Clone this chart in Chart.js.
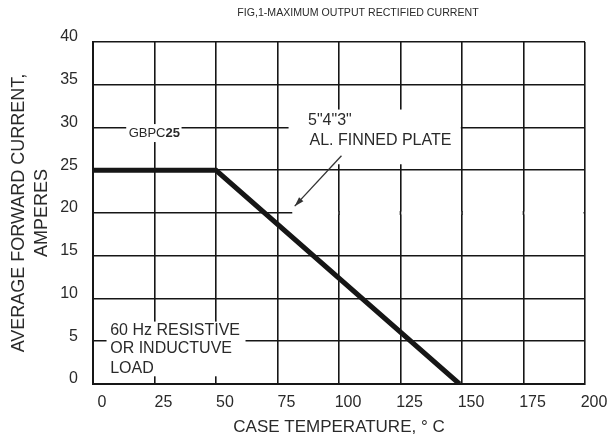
<!DOCTYPE html>
<html>
<head>
<meta charset="utf-8">
<script src="https://cdn.jsdelivr.net/npm/chart.js@4.4.1/dist/chart.umd.min.js"></script>
<style>
  body { margin: 0; background: #fff; }
  canvas { display: block; }
</style>
</head>
<body>
<canvas id="myChart" width="615" height="443"></canvas>
<script>
"use strict";

// curve
const temps = [0, 50, 149];
const amps = [25, 25, 0];

// axes
const xTicks = [0, 25, 50, 75, 100, 125, 150, 175, 200];
const yGrid = [0, 2.5, 5, 7.5, 10, 12.5, 15, 17.5, 20, 22.5, 25, 27.5, 30, 32.5, 35, 37.5, 40];
const yLabels = [0, 5, 10, 15, 20, 25, 30, 35, 40];

const INK = '#161616';
const TXT = '#2a2a2a';
const FONT = '"Liberation Sans", Arial, sans-serif';

// white patches where the original has no grid (in data units)
const masks = [
  { x0: 79.5, x1: 149.5, y0: 25.7, y1: 32.1 },
  { x0: 5.5, x1: 62, y0: 0.9, y1: 7.3 },
  { x0: 13.5, x1: 36, y0: 28.3, y1: 30.4 }
];

const notes = {
  id: 'notes',
  beforeDatasetsDraw(chart) {
    const { ctx, scales: { x, y } } = chart;
    ctx.save();
    ctx.fillStyle = '#fff';
    masks.forEach(m => {
      const l = x.getPixelForValue(m.x0), r = x.getPixelForValue(m.x1);
      const t = y.getPixelForValue(m.y1), b = y.getPixelForValue(m.y0);
      ctx.fillRect(l, t, r - l, b - t);
    });
    // the 20 A grid line stops at the arrow tip
    const y20 = y.getPixelForValue(20);
    const xs = x.getPixelForValue(81), xe = x.getPixelForValue(200) - 1.5;
    ctx.fillRect(xs, y20 - 1.6, xe - xs, 3.2);
    ctx.strokeStyle = INK;
    ctx.lineWidth = 1.6;
    xTicks.filter(v => v > 81 && v < 200).forEach(v => {
      const px = x.getPixelForValue(v);
      ctx.beginPath();
      ctx.moveTo(px, y20 - 2);
      ctx.lineTo(px, y20 + 2);
      ctx.stroke();
    });
    ctx.restore();
  },
  afterDraw(chart) {
    const { ctx, scales: { x, y } } = chart;
    ctx.save();
    ctx.fillStyle = TXT;
    ctx.textBaseline = 'middle';

    ctx.font = '10.6px ' + FONT;
    ctx.textAlign = 'center';
    ctx.fillText('FIG,1-MAXIMUM OUTPUT RECTIFIED CURRENT', 358, 13);

    ctx.textAlign = 'left';
    ctx.font = '13px ' + FONT;
    const gx = x.getPixelForValue(14.5), gy = y.getPixelForValue(29.3);
    ctx.fillText('GBPC', gx, gy);
    const w = ctx.measureText('GBPC').width;
    ctx.font = 'bold 13px ' + FONT;
    ctx.fillText('25', gx + w, gy);

    ctx.font = '16px ' + FONT;
    ctx.fillText('5"4"3"', x.getPixelForValue(87.4), y.getPixelForValue(30.8));
    ctx.fillText('AL. FINNED PLATE', x.getPixelForValue(88), y.getPixelForValue(28.5));

    ctx.fillText('60 Hz RESISTIVE', x.getPixelForValue(7), y.getPixelForValue(6.3));
    ctx.fillText('OR INDUCTUVE', x.getPixelForValue(7), y.getPixelForValue(4.1));
    ctx.fillText('LOAD', x.getPixelForValue(7), y.getPixelForValue(1.85));

    // arrow to the derating line
    const ax0 = x.getPixelForValue(101), ay0 = y.getPixelForValue(26.7);
    const ax1 = x.getPixelForValue(82), ay1 = y.getPixelForValue(20.8);
    ctx.strokeStyle = '#333';
    ctx.lineWidth = 1.3;
    ctx.beginPath();
    ctx.moveTo(ax0, ay0);
    ctx.lineTo(ax1, ay1);
    ctx.stroke();
    const ang = Math.atan2(ay1 - ay0, ax1 - ax0);
    ctx.fillStyle = '#333';
    ctx.beginPath();
    ctx.moveTo(ax1, ay1);
    ctx.lineTo(ax1 - 10 * Math.cos(ang - 0.3), ay1 - 10 * Math.sin(ang - 0.3));
    ctx.lineTo(ax1 - 10 * Math.cos(ang + 0.3), ay1 - 10 * Math.sin(ang + 0.3));
    ctx.closePath();
    ctx.fill();
    ctx.restore();
  }
};

const ctx = document.getElementById('myChart').getContext('2d');
const myChart = new Chart(ctx, {
  type: 'line',
  data: {
    datasets: [{
      data: temps.map((t, i) => ({ x: t, y: amps[i] })),
      borderColor: INK,
      borderWidth: 5,
      pointRadius: 0,
      tension: 0,
      fill: false
    }]
  },
  options: {
    responsive: false,
    animation: false,
    layout: { padding: { top: 42, right: 30, left: 0, bottom: 0 } },
    plugins: {
      legend: { display: false },
      tooltip: { enabled: false }
    },
    scales: {
      x: {
        type: 'linear',
        min: 0,
        max: 200,
        afterBuildTicks: s => { s.ticks = xTicks.map(v => ({ value: v })); },
        afterFit: s => { s.height = 59; },
        grid: { color: INK, lineWidth: 1.6, drawTicks: false },
        border: { display: true, color: INK, width: 2 },
        ticks: {
          color: TXT,
          font: { family: FONT, size: 16 },
          padding: 9,
          labelOffset: 9,
          maxRotation: 0
        },
        title: {
          display: true,
          text: 'CASE TEMPERATURE, ° C',
          color: TXT,
          font: { family: FONT, size: 17 },
          padding: { top: 0, bottom: 5 }
        }
      },
      y: {
        type: 'linear',
        min: 0,
        max: 40,
        afterBuildTicks: s => { s.ticks = yGrid.map(v => ({ value: v })); },
        afterFit: s => { s.width = 93; },
        grid: { color: INK, lineWidth: 1.6, drawTicks: false },
        border: { display: true, color: INK, width: 2 },
        ticks: {
          color: TXT,
          font: { family: FONT, size: 16 },
          padding: 15,
          labelOffset: -5,
          callback: v => yLabels.includes(v) ? String(v) : ''
        },
        title: {
          display: true,
          text: ['AVERAGE FORWARD CURRENT,', 'AMPERES'],
          color: TXT,
          font: { family: FONT, size: 18, lineHeight: 1.3 },
          padding: { top: 7, bottom: 0 }
        }
      }
    }
  },
  plugins: [notes]
});
</script>
</body>
</html>
